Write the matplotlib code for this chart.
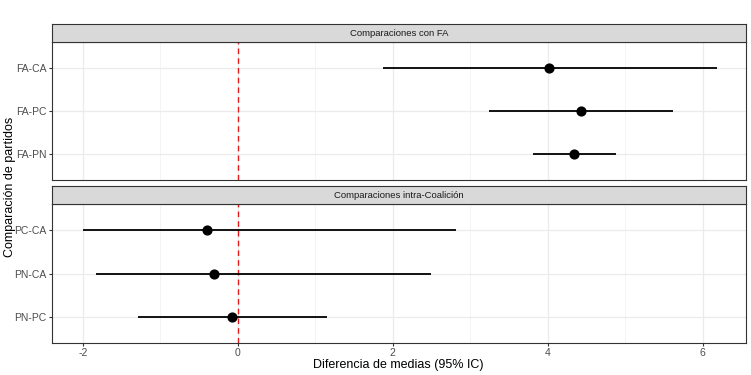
import matplotlib
matplotlib.use("Agg")
import matplotlib.pyplot as plt

plt.rcParams["font.family"] = ["Liberation Sans", "DejaVu Sans"]

# data: mean difference with 95% CI
fa_labels = ["FA-CA", "FA-PC", "FA-PN"]
fa_mean = [4.02, 4.43, 4.34]
fa_low = [1.87, 3.24, 3.81]
fa_high = [6.18, 5.62, 4.88]

co_labels = ["PC-CA", "PN-CA", "PN-PC"]
co_mean = [-0.40, -0.31, -0.08]
co_low = [-2.00, -1.83, -1.29]
co_high = [2.82, 2.49, 1.15]

strip_titles = ["Comparaciones con FA", "Comparaciones intra-Coalición"]
xticks = [-2, 0, 2, 4, 6]
xminor = [-1, 1, 3, 5]

W, H = 751, 375
fig = plt.figure(figsize=(W / 100, H / 100), dpi=100)
BORDER, STRIP, GRID = "#333333", "#d9d9d9", "#ebebeb"


def panel(top_px, bot_px, strip_top_px, labels, mean, low, high, title, show_x):
    ax = fig.add_axes([52 / W, 1 - bot_px / H, 694 / W, (bot_px - top_px) / H])
    n = len(labels)
    ypos = list(range(n))
    ax.set_xlim(-2.40, 6.56)
    ax.set_ylim(n - 1 + 0.6, -0.6)
    for x in xticks:
        ax.axvline(x, color=GRID, lw=0.9, zorder=0)
    for x in xminor:
        ax.axvline(x, color="#f2f2f2", lw=0.6, zorder=0)
    for y in ypos:
        ax.axhline(y, color=GRID, lw=0.9, zorder=0)
    ax.axvline(0, color="#e41a1c", lw=1.0, ls=(0, (4, 3)), zorder=1)
    ax.hlines(ypos, low, high, color="black", lw=1.3, zorder=2)
    ax.scatter(mean, ypos, s=40, color="black", zorder=3)
    ax.set_yticks(ypos)
    ax.set_yticklabels(labels)
    ax.set_xticks(xticks)
    ax.tick_params(colors=BORDER, labelcolor="#4d4d4d", labelsize=7.5, length=2.5,
                   width=0.8, pad=1.2)
    if not show_x:
        ax.tick_params(axis="x", length=0, labelbottom=False)
    for s in ax.spines.values():
        s.set_color(BORDER)
        s.set_linewidth(0.8)
    # facet strip
    sax = fig.add_axes([52 / W, 1 - top_px / H, 694 / W, (top_px - strip_top_px) / H])
    sax.set_xticks([]); sax.set_yticks([])
    sax.set_facecolor(STRIP)
    for s in sax.spines.values():
        s.set_color(BORDER)
        s.set_linewidth(0.8)
    sax.text(0.5, 0.5, title, ha="center", va="center", fontsize=6.8, color="#1a1a1a",
             transform=sax.transAxes)
    return ax


panel(42, 180, 24, fa_labels, fa_mean, fa_low, fa_high, strip_titles[0], False)
ax2 = panel(204, 343, 186, co_labels, co_mean, co_low, co_high, strip_titles[1], True)
ax2.set_xticklabels([str(t) for t in xticks])

fig.text(398 / W, 1 - 365 / H, "Diferencia de medias (95% IC)", ha="center", va="center",
         fontsize=9, color="black")
fig.text(10 / W, 1 - 187 / H, "Comparación de partidos", ha="center", va="center",
         rotation=90, fontsize=9, color="black")

fig.savefig("out.png", dpi=100)
